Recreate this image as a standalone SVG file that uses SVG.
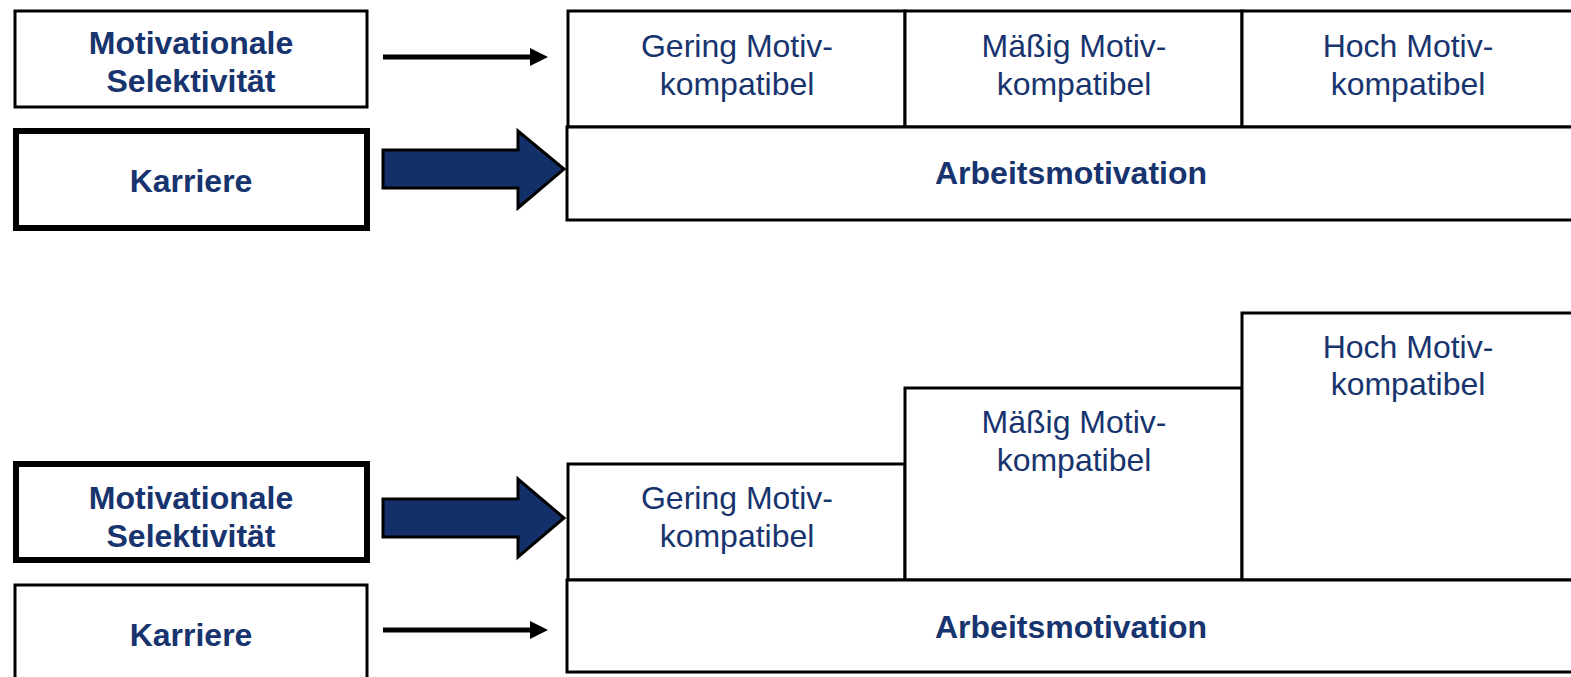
<svg xmlns="http://www.w3.org/2000/svg" width="1571" height="677" viewBox="0 0 1571 677">
<style>
.b{fill:#fff;stroke:#000;stroke-width:3}
.bt{fill:#fff;stroke:#000;stroke-width:6}
.t{font-family:"Liberation Sans",Arial,sans-serif;font-size:32px;fill:#17346e;text-anchor:middle}
.tb{font-family:"Liberation Sans",Arial,sans-serif;font-size:32px;font-weight:bold;fill:#17346e;text-anchor:middle}
.big{fill:#14306a;stroke:#000;stroke-width:3;stroke-linejoin:miter}
.thin{stroke:#000;stroke-width:5;fill:none}
</style>
<rect width="1571" height="677" fill="#fff"/>

<!-- Top section -->
<g id="top-motivationale"><rect class="b" x="15" y="11" width="352" height="96"/><text class="tb" x="191" y="54">Motivationale</text><text class="tb" x="191" y="92">Selektivität</text></g>
<g id="top-karriere"><rect class="bt" x="16" y="131" width="351" height="97"/><text class="tb" x="191" y="192">Karriere</text></g>
<g id="top-gering"><rect class="b" x="568" y="11" width="337" height="116"/><text class="t" x="737" y="57">Gering Motiv-</text><text class="t" x="737" y="95">kompatibel</text></g>
<g id="top-maessig"><rect class="b" x="905" y="11" width="337" height="116"/><text class="t" x="1074" y="57">Mäßig Motiv-</text><text class="t" x="1074" y="95">kompatibel</text></g>
<g id="top-hoch"><rect class="b" x="1242" y="11" width="340" height="116"/><text class="t" x="1408" y="57">Hoch Motiv-</text><text class="t" x="1408" y="95">kompatibel</text></g>
<g id="top-arbeitsmotivation"><rect class="b" x="567" y="127" width="1015" height="93"/><text class="tb" x="1071" y="184">Arbeitsmotivation</text></g>

<!-- Bottom section -->
<g id="bot-motivationale"><rect class="bt" x="16" y="464" width="351" height="96"/><text class="tb" x="191" y="509">Motivationale</text><text class="tb" x="191" y="547">Selektivität</text></g>
<g id="bot-karriere"><rect class="b" x="15" y="585" width="352" height="100"/><text class="tb" x="191" y="646">Karriere</text></g>
<g id="bot-gering"><rect class="b" x="568" y="464" width="337" height="116"/><text class="t" x="737" y="509">Gering Motiv-</text><text class="t" x="737" y="547">kompatibel</text></g>
<g id="bot-maessig"><rect class="b" x="905" y="388" width="337" height="192"/><text class="t" x="1074" y="433">Mäßig Motiv-</text><text class="t" x="1074" y="471">kompatibel</text></g>
<g id="bot-hoch"><rect class="b" x="1242" y="313" width="340" height="267"/><text class="t" x="1408" y="358">Hoch Motiv-</text><text class="t" x="1408" y="395">kompatibel</text></g>
<g id="bot-arbeitsmotivation"><rect class="b" x="567" y="580" width="1015" height="92"/><text class="tb" x="1071" y="638">Arbeitsmotivation</text></g>

<g id="connectors">
<line class="thin" x1="383" y1="57" x2="530" y2="57"/>
<path d="M530,48 L548,57 L530,66 Z" fill="#000"/>
<path class="big" d="M383,150 L518,150 L518,131 L564,169 L518,208 L518,188 L383,188 Z"/>
<path class="big" d="M383,499 L518,499 L518,479 L564,518 L518,557 L518,537 L383,537 Z"/>
<line class="thin" x1="383" y1="630" x2="530" y2="630"/>
<path d="M530,621 L548,630 L530,639 Z" fill="#000"/>
</g>
</svg>
